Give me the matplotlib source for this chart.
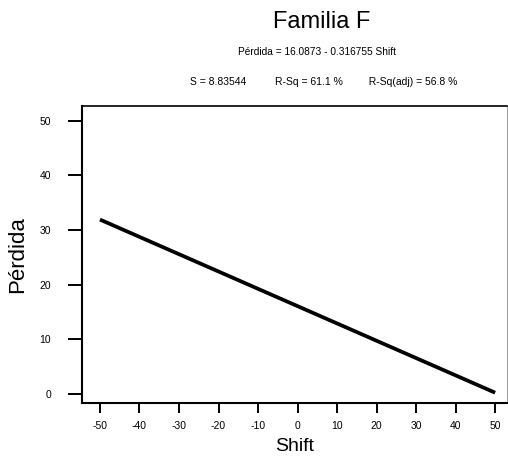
import numpy as np
import matplotlib.pyplot as plt

plt.rcParams['font.family'] = ['Liberation Sans', 'DejaVu Sans']
plt.rcParams['axes.unicode_minus'] = False

# regression fit
intercept = 16.0873
slope = -0.316755
s_val = 8.83544
r_sq = 61.1
r_sq_adj = 56.8
shift = np.array([-50, 50])

xticks = [-50, -40, -30, -20, -10, 0, 10, 20, 30, 40, 50]
yticks = [0, 10, 20, 30, 40, 50]

fig = plt.figure(figsize=(5.08, 4.57), dpi=100)
ax = fig.add_axes([0.161, 0.118, 0.837, 0.650])

perdida = intercept + slope * shift
ax.plot(shift, perdida, color='black', lw=2.7, solid_capstyle='butt')

ax.set_xlim(-54.6, 53)
ax.set_ylim(-1.65, 52.7)
ax.set_xticks(xticks)
ax.set_xticklabels([str(t) for t in xticks])
ax.set_yticks(yticks)
ax.set_yticklabels([str(t) for t in yticks])
ax.tick_params(axis='x', length=7, width=1.4, pad=6, labelsize=7.5)
ax.tick_params(axis='y', length=10, width=1.4, pad=12, labelsize=7.5)

for side in ['left', 'bottom']:
    ax.spines[side].set_linewidth(1.5)
ax.spines['top'].set_linewidth(1.2)
ax.spines['right'].set_linewidth(0.7)
ax.spines['right'].set_color('#999999')

ax.set_xlabel('Shift', fontsize=14, labelpad=5)
ax.set_ylabel('Pérdida', fontsize=16, labelpad=8)

fig.text(0.634, 0.952, 'Familia F', fontsize=17, ha='center', va='center')
fig.text(0.625, 0.886, 'Pérdida = %.4f - %.6f Shift' % (intercept, -slope),
         fontsize=7.3, ha='center', va='center')
fig.text(0.637, 0.821,
         'S = %.5f          R-Sq = %.1f %%         R-Sq(adj) = %.1f %%' % (s_val, r_sq, r_sq_adj),
         fontsize=7.5, ha='center', va='center')

fig.savefig('out.png', dpi=100)
